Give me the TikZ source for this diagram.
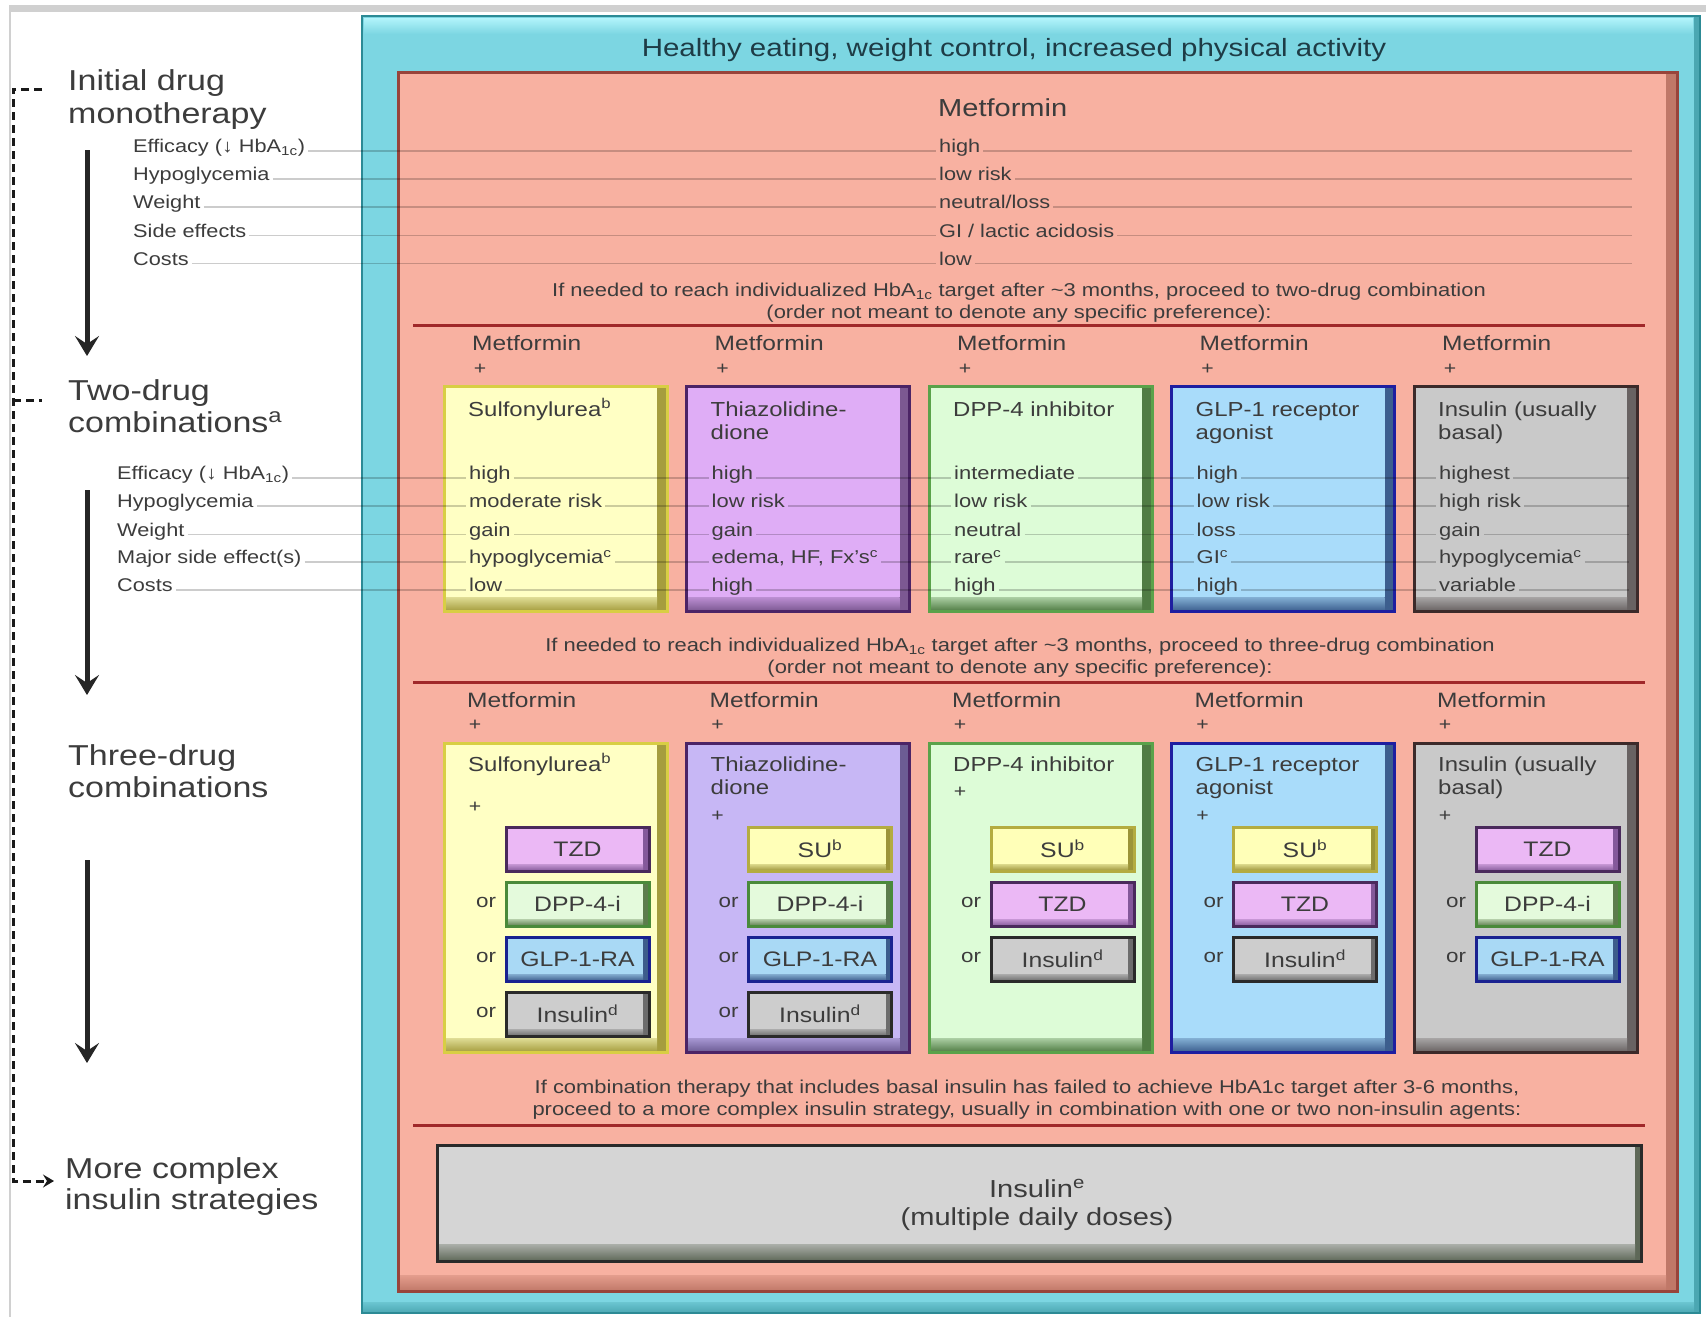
\documentclass[tikz,border=0pt]{standalone}
\usepackage{fontspec}
\setmainfont{Liberation Sans}[FakeStretch=1.18]
\usetikzlibrary{arrows.meta}

\definecolor{framegrey}{HTML}{D0D0D0}
\definecolor{tealE}{HTML}{2C8A95}
\definecolor{tealS}{HTML}{4BA7B2}
\definecolor{tealF}{HTML}{7CD6E2}
\definecolor{tealH}{HTML}{B2F4FB}
\definecolor{salE}{HTML}{98443B}
\definecolor{salS}{HTML}{C07868}
\definecolor{salF}{HTML}{F8B1A1}
\definecolor{sepred}{HTML}{A0282A}
\definecolor{txt}{HTML}{3C3C3C}
\definecolor{headtxt}{HTML}{1E3C46}
\definecolor{yelE}{HTML}{D8CE44}
\definecolor{yelS}{HTML}{A59D3E}
\definecolor{yelF}{HTML}{FFFFC4}
\definecolor{purE}{HTML}{4C2466}
\definecolor{purS}{HTML}{7C5892}
\definecolor{purF}{HTML}{DFADF6}
\definecolor{lavS}{HTML}{6C5C94}
\definecolor{lavF}{HTML}{C7B7F5}
\definecolor{grnE}{HTML}{5AA24A}
\definecolor{grnS}{HTML}{507C44}
\definecolor{grnF}{HTML}{DDFCD7}
\definecolor{bluE}{HTML}{1E1EA0}
\definecolor{bluS}{HTML}{3C5E8E}
\definecolor{bluF}{HTML}{A9DCFA}
\definecolor{gryE}{HTML}{3C2A2A}
\definecolor{gryS}{HTML}{686262}
\definecolor{gryF}{HTML}{C9C9C9}
\definecolor{tzdE}{HTML}{4A2A5C}
\definecolor{tzdS}{HTML}{84589A}
\definecolor{tzdF}{HTML}{EBB8F5}
\definecolor{suE}{HTML}{B4AC40}
\definecolor{suS}{HTML}{9C9438}
\definecolor{suF}{HTML}{FFFFB8}
\definecolor{dppE}{HTML}{4A8A3A}
\definecolor{dppS}{HTML}{5C7C4C}
\definecolor{dppF}{HTML}{E4FADC}
\definecolor{glpE}{HTML}{1A2290}
\definecolor{glpS}{HTML}{3C5C8C}
\definecolor{glpF}{HTML}{A9D9F5}
\definecolor{insE}{HTML}{2A2A2A}
\definecolor{insS}{HTML}{6C6C6C}
\definecolor{insF}{HTML}{CDCDCD}
\definecolor{botS}{HTML}{5E6858}
\definecolor{botF}{HTML}{D5D5D5}

\def\bevR{10pt}
\def\bevB{14pt}

\tikzset{
  bev/.style n args={3}{draw=#1, fill=#2, line width=3pt, inner sep=0pt, outer sep=0pt,
    path picture={
      \fill[#3] (path picture bounding box.north west) rectangle
        ([shift={(-\bevR,\bevB)}]path picture bounding box.south east);
      \shade[top color=#2!35!#3, bottom color=#2] ([yshift=\bevB]path picture bounding box.south west)
        rectangle ([xshift=-\bevR]path picture bounding box.south east);
    }},
  bigbox/.style={minimum width=223pt, anchor=north west},
  ybox/.style={bev={yelE}{yelS}{yelF}, bigbox},
  pbox/.style={bev={purE}{purS}{purF}, bigbox},
  lbox/.style={bev={purE}{lavS}{lavF}, bigbox},
  gbox/.style={bev={grnE}{grnS}{grnF}, bigbox},
  bbox/.style={bev={bluE}{bluS}{bluF}, bigbox},
  kbox/.style={bev={gryE}{gryS}{gryF}, bigbox},
  smallbox/.style={/utils/exec={\def\bevR{6pt}\def\bevB{7pt}}, minimum width=143pt, minimum height=44pt,
     anchor=north west, font=\fontsize{21}{24}\selectfont, text=txt},
  subT/.style={bev={tzdE}{tzdS}{tzdF}, smallbox},
  subS/.style={bev={suE}{suS}{suF}, smallbox},
  subD/.style={bev={dppE}{dppS}{dppF}, smallbox},
  subG/.style={bev={glpE}{glpS}{glpF}, smallbox},
  subI/.style={bev={insE}{insS}{insF}, smallbox},
  tx/.style={inner sep=0pt, text=txt},
  lvl/.style={tx, font=\fontsize{28.8}{33}\selectfont, anchor=base west},
  crit/.style={tx, inner xsep=3pt, font=\fontsize{18.4}{22}\selectfont, anchor=west, text height=13pt, text depth=4pt},
  bval/.style={tx, inner xsep=3pt, font=\fontsize{18.6}{22}\selectfont, anchor=west, text height=13pt, text depth=4pt},
  colm/.style={tx, inner xsep=3pt, font=\fontsize{20.8}{24}\selectfont, anchor=west, text height=15pt, text depth=4pt},
  btitle/.style={tx, inner xsep=3pt, font=\fontsize{20.3}{24}\selectfont, anchor=west, text height=15pt, text depth=4pt},
  plus/.style={tx, font=\fontsize{18}{20}\selectfont},
  orl/.style={tx, font=\fontsize{19}{22}\selectfont, anchor=west},
  instr/.style={tx, font=\fontsize{18.6}{22}\selectfont, text height=13pt, text depth=4pt},
  head/.style={inner sep=0pt, text=headtxt, font=\fontsize{25}{30}\selectfont},
  mhead/.style={tx, inner xsep=3pt, font=\fontsize{24.6}{28}\selectfont, anchor=west},
  botl/.style={tx, font=\fontsize{24.6}{28}\selectfont},
  guide/.style={draw=black, opacity=0.2, line width=1.1pt},
  sepline/.style={draw=sepred, line width=3pt},
  bigarr/.style={draw=black!85, line width=5pt, -{Stealth[length=20pt,width=24pt,inset=8pt]}},
  dashline/.style={draw=black!90, line width=3pt, dash pattern=on 8pt off 5pt},
}

\newcommand\twodrugvals[6]{%
  \pgfmathsetmacro\Lx{466+242.5*(#1-1)}%
  \node[bval] (v#1a) at (\Lx,475) {#2};
  \node[bval] (v#1b) at (\Lx,503) {#3};
  \node[bval] (v#1c) at (\Lx,531.5) {#4};
  \node[bval] (v#1d) at (\Lx,559) {#5};
  \node[bval] (v#1e) at (\Lx,587) {#6};
}

\begin{document}
\begin{tikzpicture}[x=1pt,y=-1pt]
\useasboundingbox (0,0) rectangle (1706,1317);
\fill[white] (0,0) rectangle (1706,1317);
\fill[framegrey] (9,5) rectangle (1706,12);
\fill[framegrey] (9,5) rectangle (10.5,1317);

% ---------- outer frames ----------
\node[bev={tealE}{tealS}{tealF}, line width=2pt, /utils/exec={\def\bevR{6pt}\def\bevB{11pt}},
      minimum width=1338pt, minimum height=1297pt, anchor=north west] (outer) at (362,16) {};
\shade[top color=tealH, bottom color=tealF] (364,18) rectangle (1693,34);
\node[bev={salE}{salS}{salF}, /utils/exec={\def\bevR{11pt}\def\bevB{16pt}},
      minimum width=1279pt, minimum height=1219pt, anchor=north west] (inner) at (398,72) {};

\node[head] (hd) at (1014,50) {Healthy eating, weight control, increased physical activity};

% separators
\coordinate (s1l) at (413,325); \coordinate (s1r) at (1645,325);
\coordinate (s2l) at (413,682); \coordinate (s2r) at (1645,682);
\coordinate (s3l) at (413,1125); \coordinate (s3r) at (1645,1125);
\draw[sepline] (s1l) -- (s1r);
\draw[sepline] (s2l) -- (s2r);
\draw[sepline] (s3l) -- (s3r);

% ---------- monotherapy ----------
\node[mhead] (met0) at (935,108) {Metformin};
\node[crit] (m1a) at (936,148) {high};
\node[crit] (m1b) at (936,176) {low risk};
\node[crit] (m1c) at (936,204) {neutral/loss};
\node[crit] (m1d) at (936,232.5) {GI / lactic acidosis};
\node[crit] (m1e) at (936,260.5) {low};
\node[instr] (ins1a) at (1019,292) {If needed to reach individualized HbA\textsubscript{1c} target after \textasciitilde3 months, proceed to two-drug combination};
\node[instr] (ins1b) at (1019,314) {(order not meant to denote any specific preference):};

% ---------- two-drug boxes ----------
\node[ybox, minimum height=225pt] (d2b1) at (444,386) {};
\node[pbox, minimum height=225pt] (d2b2) at (686.5,386) {};
\node[gbox, minimum height=225pt] (d2b3) at (929,386) {};
\node[bbox, minimum height=225pt] (d2b4) at (1171.5,386) {};
\node[kbox, minimum height=225pt] (d2b5) at (1414,386) {};

% ---------- three-drug boxes ----------
\node[ybox, minimum height=309pt] (d3b1) at (444,743) {};
\node[lbox, minimum height=309pt] (d3b2) at (686.5,743) {};
\node[gbox, minimum height=309pt] (d3b3) at (929,743) {};
\node[bbox, minimum height=309pt] (d3b4) at (1171.5,743) {};
\node[kbox, minimum height=309pt] (d3b5) at (1414,743) {};

% column headers
\foreach \i in {1,...,5} {
  \pgfmathsetmacro\L{444+242.5*(\i-1)}
  \node[colm] (m2\i) at (\L+25,345) {Metformin};
  \node[plus] (p2\i) at (\L+36,369) {+};
  \node[colm] (m3\i) at (\L+20,702) {Metformin};
  \node[plus] (p3\i) at (\L+31,725) {+};
}

% two-drug titles
\node[btitle] (t21a) at (465,411) {Sulfonylurea\textsuperscript{b}};
\node[btitle] (t22a) at (707.5,411) {Thiazolidine-};
\node[btitle] (t22b) at (707.5,434) {dione};
\node[btitle] (t23a) at (950,411) {DPP-4 inhibitor};
\node[btitle] (t24a) at (1192.5,411) {GLP-1 receptor};
\node[btitle] (t24b) at (1192.5,434) {agonist};
\node[btitle] (t25a) at (1435,411) {Insulin (usually};
\node[btitle] (t25b) at (1435,434) {basal)};

% two-drug values
\twodrugvals{1}{high}{moderate risk}{gain}{hypoglycemia\textsuperscript{c}}{low}
\twodrugvals{2}{high}{low risk}{gain}{edema, HF, Fx's\textsuperscript{c}}{high}
\twodrugvals{3}{intermediate}{low risk}{neutral}{rare\textsuperscript{c}}{high}
\twodrugvals{4}{high}{low risk}{loss}{GI\textsuperscript{c}}{high}
\twodrugvals{5}{highest}{high risk}{gain}{hypoglycemia\textsuperscript{c}}{variable}

\node[instr] (ins2a) at (1020,647) {If needed to reach individualized HbA\textsubscript{1c} target after \textasciitilde3 months, proceed to three-drug combination};
\node[instr] (ins2b) at (1020,669) {(order not meant to denote any specific preference):};

% three-drug titles
\node[btitle] (t31a) at (465,766) {Sulfonylurea\textsuperscript{b}};
\node[btitle] (t32a) at (707.5,766) {Thiazolidine-};
\node[btitle] (t32b) at (707.5,789) {dione};
\node[btitle] (t33a) at (950,766) {DPP-4 inhibitor};
\node[btitle] (t34a) at (1192.5,766) {GLP-1 receptor};
\node[btitle] (t34b) at (1192.5,789) {agonist};
\node[btitle] (t35a) at (1435,766) {Insulin (usually};
\node[btitle] (t35b) at (1435,789) {basal)};
\node[plus] (q1) at (475,807) {+};
\node[plus] (q2) at (717.5,816) {+};
\node[plus] (q3) at (960,792) {+};
\node[plus] (q4) at (1202.5,816) {+};
\node[plus] (q5) at (1445,816) {+};

% sub-boxes
\node[subT] (s11) at (506,827) {TZD};
\node[subD] (s12) at (506,882) {DPP-4-i};
\node[subG] (s13) at (506,937) {GLP-1-RA};
\node[subI] (s14) at (506,992) {Insulin\textsuperscript{d}};
\node[subS] (s21) at (748.5,827) {SU\textsuperscript{b}};
\node[subD] (s22) at (748.5,882) {DPP-4-i};
\node[subG] (s23) at (748.5,937) {GLP-1-RA};
\node[subI] (s24) at (748.5,992) {Insulin\textsuperscript{d}};
\node[subS] (s31) at (991,827) {SU\textsuperscript{b}};
\node[subT] (s32) at (991,882) {TZD};
\node[subI] (s33) at (991,937) {Insulin\textsuperscript{d}};
\node[subS] (s41) at (1233.5,827) {SU\textsuperscript{b}};
\node[subT] (s42) at (1233.5,882) {TZD};
\node[subI] (s43) at (1233.5,937) {Insulin\textsuperscript{d}};
\node[subT] (s51) at (1476,827) {TZD};
\node[subD] (s52) at (1476,882) {DPP-4-i};
\node[subG] (s53) at (1476,937) {GLP-1-RA};
% "or" labels
\foreach \i/\n in {1/3,2/3,3/2,4/2,5/2} {
  \pgfmathsetmacro\L{444+242.5*(\i-1)}
  \foreach \r in {1,...,\n} {
    \node[orl] (or\i\r) at (\L+32,{902+55*(\r-1)}) {or};
  }
}

\node[instr] (ins3a) at (1027,1089) {If combination therapy that includes basal insulin has failed to achieve HbA1c target after 3-6 months,};
\node[instr] (ins3b) at (1027,1111) {proceed to a more complex insulin strategy, usually in combination with one or two non-insulin agents:};

% bottom insulin box
\node[bev={insE}{botS}{botF}, /utils/exec={\def\bevR{6pt}\def\bevB{17pt}},
      minimum width=1204pt, minimum height=116pt, anchor=north west] (botbox) at (437,1145) {};
\node[botl] (bi1) at (1037,1188) {Insulin\textsuperscript{e}};
\node[botl] (bi2) at (1037,1219) {(multiple daily doses)};

% ---------- left column ----------
\node[lvl] (lv1a) at (68,90) {Initial drug};
\node[lvl] (lv1b) at (68,123) {monotherapy};
\node[lvl] (lv2a) at (68,400) {Two-drug};
\node[lvl] (lv2b) at (68,432) {combinations\textsuperscript{a}};
\node[lvl] (lv3a) at (68,765) {Three-drug};
\node[lvl] (lv3b) at (68,797) {combinations};
\node[lvl] (lv4a) at (65,1178) {More complex};
\node[lvl] (lv4b) at (65,1209) {insulin strategies};

\node[crit] (c1a) at (130,148) {Efficacy (↓ HbA\textsubscript{1c})};
\node[crit] (c1b) at (130,176) {Hypoglycemia};
\node[crit] (c1c) at (130,204) {Weight};
\node[crit] (c1d) at (130,232.5) {Side effects};
\node[crit] (c1e) at (130,260.5) {Costs};

\node[crit] (c2a) at (114,475) {Efficacy (↓ HbA\textsubscript{1c})};
\node[crit] (c2b) at (114,503) {Hypoglycemia};
\node[crit] (c2c) at (114,531.5) {Weight};
\node[crit] (c2d) at (114,559) {Major side effect(s)};
\node[crit] (c2e) at (114,587) {Costs};

% guide lines
\coordinate (e1a) at (1632,148); \coordinate (e1b) at (1632,176); \coordinate (e1c) at (1632,204);
\coordinate (e1d) at (1632,232.5); \coordinate (e1e) at (1632,260.5);
\coordinate (e2a) at (1629,475); \coordinate (e2b) at (1629,503); \coordinate (e2c) at (1629,531.5);
\coordinate (e2d) at (1629,559); \coordinate (e2e) at (1629,587);
\foreach \r in {a,b,c,d,e} {
  \draw[guide] ([yshift=-3pt]c1\r.east) -- ([yshift=-3pt]m1\r.west);
  \draw[guide] ([yshift=-3pt]m1\r.east) -- ([yshift=-3pt]e1\r);
  \draw[guide] ([yshift=-3pt]c2\r.east) -- ([yshift=-3pt]v1\r.west);
  \draw[guide] ([yshift=-3pt]v1\r.east) -- ([yshift=-3pt]v2\r.west);
  \draw[guide] ([yshift=-3pt]v2\r.east) -- ([yshift=-3pt]v3\r.west);
  \draw[guide] ([yshift=-3pt]v3\r.east) -- ([yshift=-3pt]v4\r.west);
  \draw[guide] ([yshift=-3pt]v4\r.east) -- ([yshift=-3pt]v5\r.west);
  \draw[guide] ([yshift=-3pt]v5\r.east) -- ([yshift=-3pt]e2\r);
}

% big arrows
\coordinate (ar1s) at (87,150); \coordinate (ar1e) at (87,356);
\coordinate (ar2s) at (87,490); \coordinate (ar2e) at (87,695);
\coordinate (ar3s) at (87,860); \coordinate (ar3e) at (87,1063);
\draw[bigarr] (ar1s) -- (ar1e);
\draw[bigarr] (ar2s) -- (ar2e);
\draw[bigarr] (ar3s) -- (ar3e);

% dashed escalation line
\coordinate (dtop) at (42,89); \coordinate (dcor) at (13,89);
\coordinate (dbot) at (13,1181); \coordinate (dend) at (54,1181);
\coordinate (d2a) at (13,400); \coordinate (d2b) at (42,400);
\draw[dashline, -{Stealth[length=11pt,width=13pt,inset=4pt]}] (dtop) -- (dcor) -- (dbot) -- (dend);
\draw[dashline] (d2a) -- (d2b);
\end{tikzpicture}
\end{document}
